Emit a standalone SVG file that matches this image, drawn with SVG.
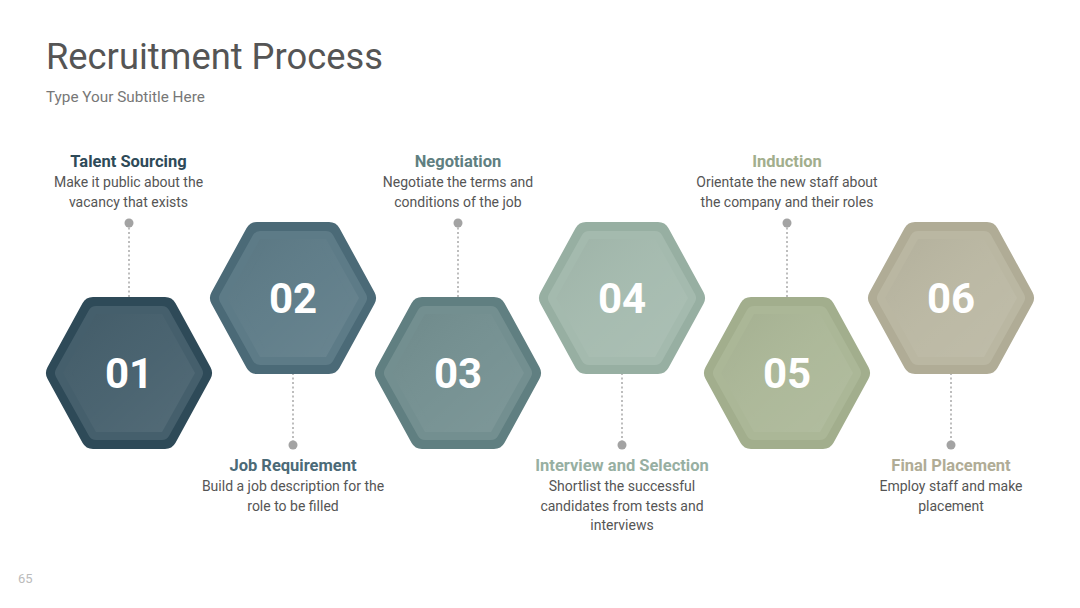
<svg xmlns="http://www.w3.org/2000/svg" width="1080" height="608" viewBox="0 0 1080 608">
<defs>
<style>
.title{font-family:Roboto,"Liberation Sans",sans-serif;font-size:36.3px;fill:#555555}
.sub{font-family:Roboto,"Liberation Sans",sans-serif;font-size:15.3px;fill:#777777}
.pg{font-family:Roboto,"Liberation Sans",sans-serif;font-size:13px;fill:#bbbbbb}
.hd{font-family:Roboto,"Liberation Sans",sans-serif;font-size:16.5px;font-weight:bold;text-anchor:middle}
.ds{font-family:Roboto,"Liberation Sans",sans-serif;font-size:14px;fill:#555555;text-anchor:middle}
.num{font-family:Roboto,"Liberation Sans",sans-serif;font-size:42px;font-weight:bold;fill:#ffffff;text-anchor:middle}
.outer{stroke-width:24;stroke-linejoin:round}
.inner{stroke-width:16;stroke-linejoin:round}
.dot{fill:#a3a3a3}
.ln{stroke:#a8a8a8;stroke-width:1.5;stroke-dasharray:2 2.5;fill:none}
</style>
<polygon id="hexO" points="-71,0 -36,-64 36,-64 71,0 36,64 -36,64"/>
<polygon id="hexI" points="-66,0 -33,-59 33,-59 66,0 33,59 -33,59"/>
<linearGradient id="sheen" x1="0" y1="0" x2="1" y2="1">
<stop offset="0" stop-color="#000000" stop-opacity="0.04"/>
<stop offset="0.5" stop-color="#ffffff" stop-opacity="0.03"/>
<stop offset="1" stop-color="#ffffff" stop-opacity="0.08"/>
</linearGradient>
</defs>
<rect width="1080" height="608" fill="#ffffff"/>
<text class="title" x="46" y="69">Recruitment Process</text>
<text class="sub" x="46" y="102">Type Your Subtitle Here</text>
<text class="pg" x="18" y="583">65</text>

<g id="connectors">
<line class="ln" x1="129" y1="223" x2="129" y2="297"/>
<line class="ln" x1="293" y1="373" x2="293" y2="445"/>
<line class="ln" x1="458" y1="223" x2="458" y2="297"/>
<line class="ln" x1="622" y1="373" x2="622" y2="445"/>
<line class="ln" x1="787" y1="223" x2="787" y2="297"/>
<line class="ln" x1="951" y1="373" x2="951" y2="445"/>
<circle class="dot" cx="129" cy="223" r="4.5"/>
<circle class="dot" cx="293" cy="445" r="4.5"/>
<circle class="dot" cx="458" cy="223" r="4.5"/>
<circle class="dot" cx="622" cy="445" r="4.5"/>
<circle class="dot" cx="787" cy="223" r="4.5"/>
<circle class="dot" cx="951" cy="445" r="4.5"/>
</g>

<g id="step1">
<g transform="translate(129,373)">
<use href="#hexO" class="outer" fill="#2e4a58" stroke="#2e4a58"/>
<use href="#hexI" class="inner" fill="#455f6c" stroke="#455f6c"/>
<use href="#hexI" class="inner" fill="url(#sheen)" stroke="none"/>
</g>
<text class="num" x="129" y="388">01</text>
<text class="hd" x="128.5" y="167" fill="#2e4a58">Talent Sourcing</text>
<text class="ds" x="128.5" y="187">Make it public about the</text>
<text class="ds" x="128.5" y="207">vacancy that exists</text>
</g>

<g id="step2">
<g transform="translate(293,298)">
<use href="#hexO" class="outer" fill="#4b6a77" stroke="#4b6a77"/>
<use href="#hexI" class="inner" fill="#5d7b87" stroke="#5d7b87"/>
<use href="#hexI" class="inner" fill="url(#sheen)" stroke="none"/>
</g>
<text class="num" x="293" y="313">02</text>
<text class="hd" x="293" y="471" fill="#4b6a77">Job Requirement</text>
<text class="ds" x="293" y="491">Build a job description for the</text>
<text class="ds" x="293" y="511">role to be filled</text>
</g>

<g id="step3">
<g transform="translate(458,373)">
<use href="#hexO" class="outer" fill="#607f81" stroke="#607f81"/>
<use href="#hexI" class="inner" fill="#738f90" stroke="#738f90"/>
<use href="#hexI" class="inner" fill="url(#sheen)" stroke="none"/>
</g>
<text class="num" x="458" y="388">03</text>
<text class="hd" x="458" y="167" fill="#607f81">Negotiation</text>
<text class="ds" x="458" y="187">Negotiate the terms and</text>
<text class="ds" x="458" y="207">conditions of the job</text>
</g>

<g id="step4">
<g transform="translate(622,298)">
<use href="#hexO" class="outer" fill="#97afa2" stroke="#97afa2"/>
<use href="#hexI" class="inner" fill="#a4baae" stroke="#a4baae"/>
<use href="#hexI" class="inner" fill="url(#sheen)" stroke="none"/>
</g>
<text class="num" x="622" y="313">04</text>
<text class="hd" x="622" y="471" fill="#97afa2">Interview and Selection</text>
<text class="ds" x="622" y="491">Shortlist the successful</text>
<text class="ds" x="622" y="511">candidates from tests and</text>
<text class="ds" x="622" y="530">interviews</text>
</g>

<g id="step5">
<g transform="translate(787,373)">
<use href="#hexO" class="outer" fill="#a2ae8d" stroke="#a2ae8d"/>
<use href="#hexI" class="inner" fill="#abb797" stroke="#abb797"/>
<use href="#hexI" class="inner" fill="url(#sheen)" stroke="none"/>
</g>
<text class="num" x="787" y="388">05</text>
<text class="hd" x="787" y="167" fill="#a2ae8d">Induction</text>
<text class="ds" x="787" y="187">Orientate the new staff about</text>
<text class="ds" x="787" y="207">the company and their roles</text>
</g>

<g id="step6">
<g transform="translate(951,298)">
<use href="#hexO" class="outer" fill="#b0ac96" stroke="#b0ac96"/>
<use href="#hexI" class="inner" fill="#bab7a2" stroke="#bab7a2"/>
<use href="#hexI" class="inner" fill="url(#sheen)" stroke="none"/>
</g>
<text class="num" x="951" y="313">06</text>
<text class="hd" x="951" y="471" fill="#b0ac96">Final Placement</text>
<text class="ds" x="951" y="491">Employ staff and make</text>
<text class="ds" x="951" y="511">placement</text>
</g>
</svg>
